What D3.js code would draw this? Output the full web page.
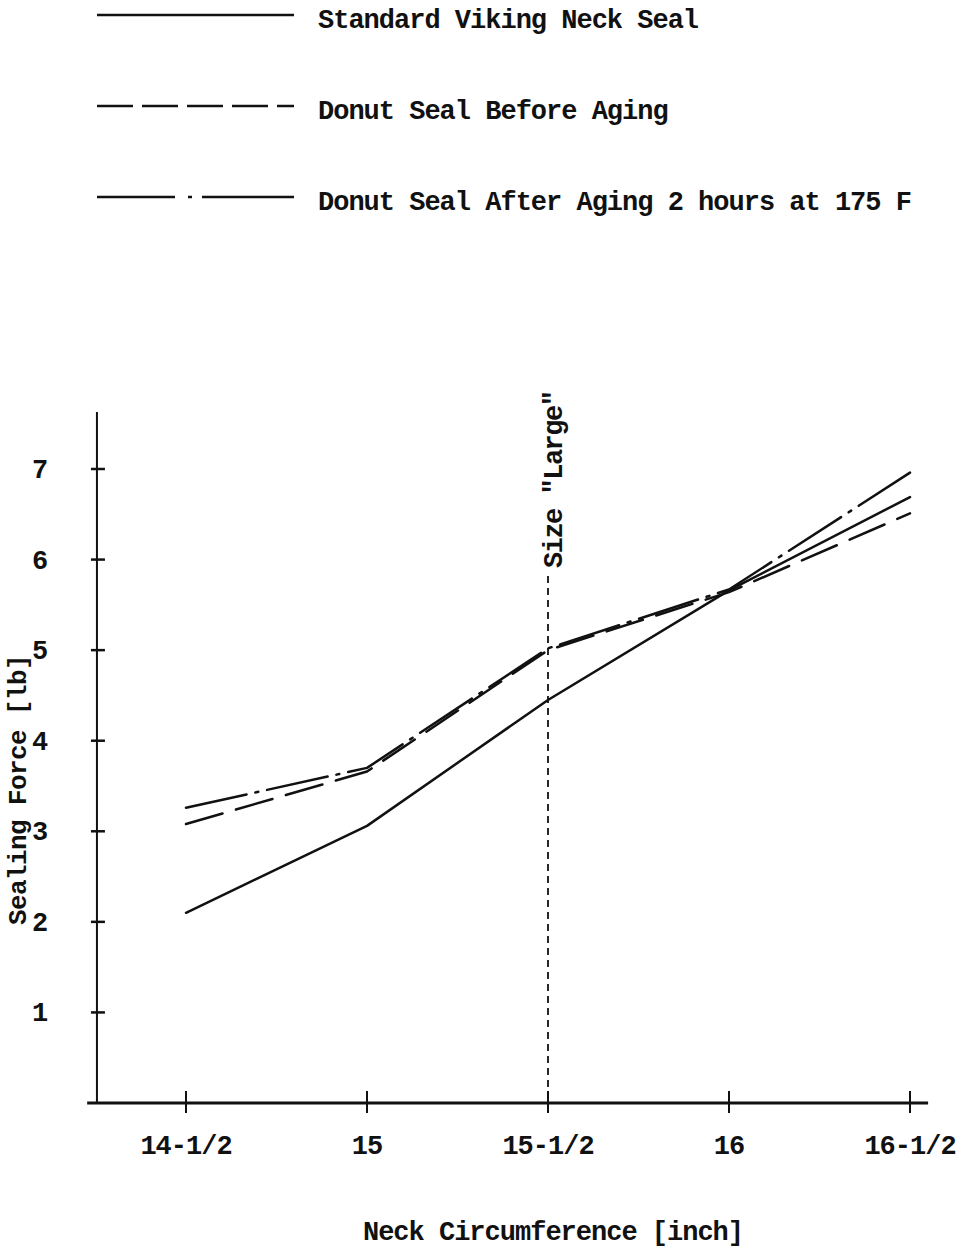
<!DOCTYPE html>
<html><head><meta charset="utf-8">
<script src="https://cdn.jsdelivr.net/npm/d3@7"></script>
<style>
html,body{margin:0;padding:0;background:#fff;}
text{font-family:"Liberation Mono","DejaVu Sans Mono",monospace;font-weight:bold;fill:#111;}
</style></head>
<body>
<script>
const categories = [14.5, 15, 15.5, 16, 16.5];
const tickLabels = ["14-1/2", "15", "15-1/2", "16", "16-1/2"];
const yTicks = [1, 2, 3, 4, 5, 6, 7];
const standardSeal = [2.10, 3.06, 4.45, 5.66, 6.69];
const donutBefore = [3.08, 3.66, 5.00, 5.64, 6.51];
const donutAfter = [3.26, 3.70, 5.02, 5.67, 6.96];
const seriesNames = ["Standard Viking Neck Seal", "Donut Seal Before Aging", "Donut Seal After Aging 2 hours at 175 F"];
const markerX = 15.5;
const markerLabel = 'Size "Large"';

const W = 970, H = 1249;
const svg = d3.select("body").append("svg").attr("width", W).attr("height", H);

const x = d3.scaleLinear().domain([14.5, 16.5]).range([186, 910]);
const y = d3.scaleLinear().domain([0, 7]).range([1103, 469]);

const dashes = [null, "38,14", "62,9,3,9"];
const legendDashes = [null, "36,9", "78,13,4,10,300"];
const series = [standardSeal, donutBefore, donutAfter];

// Legend
const legendY = [15, 106, 197];
seriesNames.forEach((name, i) => {
  svg.append("line").attr("x1", 97).attr("x2", 294)
    .attr("y1", legendY[i]).attr("y2", legendY[i])
    .attr("stroke", "#111").attr("stroke-width", 2.5)
    .attr("stroke-dasharray", legendDashes[i] || null);
  svg.append("text").attr("x", 318).attr("y", legendY[i] + 13)
    .attr("font-size", 27).attr("letter-spacing", -1.0).text(name);
});

// Axes
const xAxisY = y(0), yAxisX = x(14.254);
svg.append("line").attr("x1", yAxisX).attr("x2", yAxisX)
  .attr("y1", y(7.63)).attr("y2", xAxisY)
  .attr("stroke", "#111").attr("stroke-width", 2);
svg.append("line").attr("x1", x(14.227)).attr("x2", x(16.55))
  .attr("y1", xAxisY).attr("y2", xAxisY)
  .attr("stroke", "#111").attr("stroke-width", 3);

yTicks.forEach(v => {
  svg.append("line").attr("x1", yAxisX - 6).attr("x2", yAxisX + 8)
    .attr("y1", y(v)).attr("y2", y(v)).attr("stroke", "#111").attr("stroke-width", 2.5);
  svg.append("text").attr("x", 40).attr("y", y(v) + 9).attr("text-anchor", "middle")
    .attr("font-size", 27).text(v);
});
categories.forEach((c, i) => {
  svg.append("line").attr("x1", x(c)).attr("x2", x(c))
    .attr("y1", xAxisY - 12).attr("y2", xAxisY + 10).attr("stroke", "#111").attr("stroke-width", 2);
  svg.append("text").attr("x", x(c)).attr("y", 1154).attr("text-anchor", "middle")
    .attr("font-size", 27).attr("letter-spacing", -1.0).text(tickLabels[i]);
});

svg.append("text").attr("x", 553).attr("y", 1240).attr("text-anchor", "middle")
  .attr("font-size", 27).attr("letter-spacing", -1.0).text("Neck Circumference [inch]");
svg.append("text").attr("transform", "translate(26,790) rotate(-90)").attr("text-anchor", "middle")
  .attr("font-size", 26).attr("letter-spacing", -0.6).text("Sealing Force [lb]");

// Marker line
svg.append("line").attr("x1", x(markerX)).attr("x2", x(markerX))
  .attr("y1", 576).attr("y2", xAxisY)
  .attr("stroke", "#111").attr("stroke-width", 1.8).attr("stroke-dasharray", "7,5");
svg.append("text").attr("transform", `translate(${x(markerX) + 14},568) rotate(-90)`)
  .attr("text-anchor", "start").attr("font-size", 27).attr("letter-spacing", -1.5).text(markerLabel);

// Lines
const line = d3.line().x((d, i) => x(categories[i])).y(d => y(d));
series.forEach((s, i) => {
  svg.append("path").datum(s).attr("d", line)
    .attr("fill", "none").attr("stroke", "#111").attr("stroke-width", 2.5)
    .attr("stroke-linejoin", "round").attr("stroke-linecap", "round")
    .attr("stroke-dasharray", dashes[i] || null);
});
</script>
</body></html>
